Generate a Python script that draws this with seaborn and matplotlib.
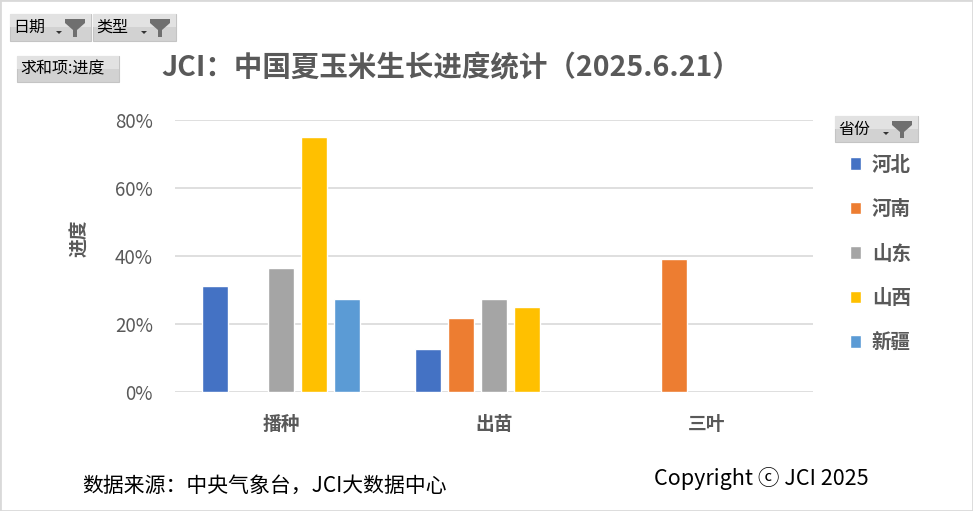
import numpy as np
import pandas as pd
import seaborn as sns
import matplotlib.pyplot as plt
from matplotlib.patches import Rectangle, Polygon
from matplotlib.ticker import PercentFormatter

stages = ['播种', '出苗', '三叶']
provinces = ['河北', '河南', '山东', '山西', '新疆']
hebei = [0.311, 0.126, np.nan]
henan = [np.nan, 0.217, 0.391]
shandong = [0.364, 0.273, np.nan]
shanxi = [0.750, 0.249, np.nan]
xinjiang = [0.273, np.nan, np.nan]
colors = ['#4472C4', '#ED7D31', '#A5A5A5', '#FFC000', '#5B9BD5']

rows = []
for prov, vals in zip(provinces, [hebei, henan, shandong, shanxi, xinjiang]):
    for st, v in zip(stages, vals):
        rows.append({'类型': st, '省份': prov, '进度': v})
data = pd.DataFrame(rows).dropna()

sns.set_style('white')
plt.rcParams['font.family'] = ['Noto Sans CJK SC', 'DejaVu Sans']

W, H = 973, 511
fig = plt.figure(figsize=(W / 100, H / 100), dpi=100)
ax = fig.add_axes([175 / W, 1 - 391.7 / H, (813 - 175) / W, (391.7 - 120) / H])

sns.barplot(data=data, x='类型', y='进度', hue='省份', order=stages,
            hue_order=provinces, palette=colors, width=0.775, gap=0.21,
            saturation=1, ax=ax)

grey = '#595959'
ax.set_xlim(-0.5, 2.5)
ax.set_ylim(0, 0.8)
ax.set_yticks([0, 0.2, 0.4, 0.6, 0.8])
ax.yaxis.set_major_formatter(PercentFormatter(1.0, decimals=0))
ax.grid(axis='y', color='#d9d9d9', linewidth=1.2)
ax.set_axisbelow(True)
for s in ax.spines.values():
    s.set_visible(False)
ax.tick_params(length=0)
ax.tick_params(axis='y', labelsize=13.5, labelcolor=grey, pad=16)
ax.tick_params(axis='x', labelsize=13.5, labelcolor=grey, pad=17)
for t in ax.get_xticklabels():
    t.set_fontweight('bold')
ax.set_xlabel('')
ax.set_ylabel('')

handles, labels = ax.get_legend_handles_labels()
ax.get_legend().remove()
fig.legend(handles, labels, loc='upper left', bbox_to_anchor=(832 / W, 1 - 138 / H),
           frameon=False, labelspacing=1.31, handlelength=0.6,
           handleheight=0.6, handletextpad=0.55, labelcolor=grey,
           prop={'weight': 'bold', 'size': 14})

fig.text(80 / W, 1 - 238 / H, '进度', rotation=90, ha='center', va='center',
         fontsize=13.5, fontweight='bold', color=grey)
fig.text(451 / W, 1 - 68 / H, 'JCI：中国夏玉米生长进度统计（2025.6.21）',
         ha='center', va='center', fontsize=20.5, fontweight='bold', color=grey)
fig.text(82 / W, 1 - 486 / H, '数据来源：中央气象台，JCI大数据中心',
         ha='left', va='center', fontsize=15, color='black')
fig.text(654 / W, 1 - 478 / H, 'Copyright ⓒ JCI 2025',
         ha='left', va='center', fontsize=15.5, color='black')


def px(x, y):
    return (x / W, 1 - y / H)


def button(x0, y0, x1, y1, text, funnel=True):
    fig.patches.append(Rectangle(px(x0, y1), (x1 - x0) / W, (y1 - y0) / H,
                                 transform=fig.transFigure, facecolor='#d2d2d2',
                                 edgecolor='#c4c4c4', linewidth=0.8))
    fig.patches.append(Rectangle(px(x0, (y0 + y1) / 2), (x1 - x0) / W, (y1 - y0) / 2 / H,
                                 transform=fig.transFigure, facecolor='#e2e2e2',
                                 edgecolor='none'))
    fig.text(*px(x0 + 3, (y0 + y1) / 2), text, ha='left', va='center',
             fontsize=11.5, color='black')
    if funnel:
        fx = x1 - 16
        fig.patches.append(Polygon([px(fx - 10, y0 + 5), px(fx + 10, y0 + 5),
                                    px(fx + 10, y0 + 9), px(fx + 2, y0 + 16),
                                    px(fx + 2, y1 - 4), px(fx - 2, y1 - 4),
                                    px(fx - 2, y0 + 16), px(fx - 10, y0 + 9)],
                                   closed=True, transform=fig.transFigure,
                                   facecolor='#6f6f6f', edgecolor='none'))
        ax_ = fx - 16
        fig.patches.append(Polygon([px(ax_ - 3, y1 - 10), px(ax_ + 3, y1 - 10),
                                    px(ax_, y1 - 7)], closed=True,
                                   transform=fig.transFigure,
                                   facecolor='#333333', edgecolor='none'))


button(10, 14, 91, 41, '日期')
button(93, 14, 176, 41, '类型')
button(17, 56, 119, 82, '求和项:进度', funnel=False)
button(835, 116, 918, 142, '省份')

fig.patches.append(Rectangle((0, 0), 1, 1, transform=fig.transFigure,
                             facecolor='none', edgecolor='#d9d9d9', linewidth=2))

fig.savefig('out.png', dpi=100)
